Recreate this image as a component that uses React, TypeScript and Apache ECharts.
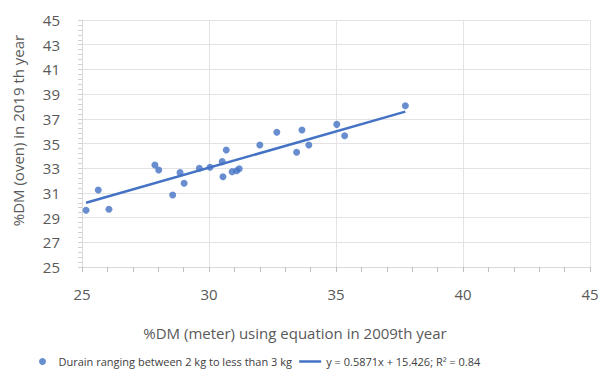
import React, { useEffect, useRef } from "react";
import * as echarts from "echarts";

const meterX = [25.16, 25.64, 26.06, 27.87, 28.02, 28.57, 28.86, 29.02, 29.62, 30.04, 30.52, 30.55, 30.68, 30.91, 31.09, 31.19, 32.0, 32.67, 33.45, 33.66, 33.93, 35.03, 35.34, 37.73];
const ovenY = [29.6, 31.23, 29.67, 33.26, 32.85, 30.83, 32.64, 31.78, 32.99, 33.07, 33.53, 32.31, 34.47, 32.72, 32.8, 32.96, 34.88, 35.91, 34.29, 36.09, 34.88, 36.55, 35.63, 38.06];
const slope = 0.5871;
const intercept = 15.426;
const seriesName = "Durain ranging between 2 kg to less than 3 kg";
const trendName = "y = 0.5871x + 15.426; R² = 0.84";
const xTitle = "%DM (meter) using equation in 2009th year";
const yTitle = "%DM (oven) in 2019 th year";

export default function App() {
  const ref = useRef<HTMLDivElement>(null);
  useEffect(() => {
    if (!ref.current) return;
    const chart = echarts.init(ref.current, null, { renderer: "svg" });
    const pts = meterX.map((x, i) => [x, ovenY[i]]);
    const xMin = Math.min(...meterX);
    const xMax = Math.max(...meterX);
    const trend = [
      [xMin, slope * xMin + intercept],
      [xMax, slope * xMax + intercept],
    ];
    const font = "'Open Sans', 'Noto Sans', sans-serif";
    chart.setOption({
      animation: false,
      backgroundColor: "#ffffff",
      textStyle: { fontFamily: font },
      grid: { left: 82, right: 16, top: 20, bottom: 107, containLabel: false },
      legend: {
        top: 351,
        left: 34,
        itemGap: 6,
        itemWidth: 22,
        itemHeight: 7,
        textStyle: { fontSize: 11, color: "#404040", fontFamily: font },
        data: [
          { name: seriesName, icon: "circle", itemStyle: { color: "#4472C4" } },
          {
            name: trendName,
            itemStyle: { color: "rgba(0,0,0,0)", borderColor: "rgba(0,0,0,0)", borderWidth: 0 },
            lineStyle: { color: "#4472C4", width: 2.5 },
          },
        ],
      },
      xAxis: {
        type: "value",
        min: 25,
        max: 45,
        interval: 5,
        name: xTitle,
        nameLocation: "middle",
        nameGap: 58,
        nameTextStyle: { fontSize: 15, color: "#595959", fontFamily: font, padding: [0, 82, 0, 0] },
        axisLine: { show: true, lineStyle: { color: "#d9d9d9" } },
        axisTick: { show: true, inside: false, length: 5, lineStyle: { color: "#bfbfbf" } },
        minorTick: { show: true, splitNumber: 5, length: 5, lineStyle: { color: "#bfbfbf" } },
        axisLabel: { fontSize: 15, color: "#595959", margin: 19 },
        splitLine: { show: true, lineStyle: { color: "#e3e3e3" } },
      },
      yAxis: {
        type: "value",
        min: 25,
        max: 45,
        interval: 2,
        name: yTitle,
        nameLocation: "middle",
        nameGap: 57,
        nameTextStyle: { fontSize: 15, color: "#595959", fontFamily: font, padding: [0, 0, 0, 26] },
        axisLine: { show: true, lineStyle: { color: "#d9d9d9" } },
        axisTick: { show: true, length: 4, lineStyle: { color: "#d0d0d0" } },
        minorTick: { show: true, splitNumber: 5, length: 4, lineStyle: { color: "#d0d0d0" } },
        axisLabel: { fontSize: 15, color: "#595959", margin: 22 },
        splitLine: { show: true, lineStyle: { color: "#e3e3e3" } },
      },
      series: [
        {
          name: seriesName,
          type: "scatter",
          data: pts,
          symbolSize: 7,
          itemStyle: { color: "#4472C4" },
          z: 3,
        },
        {
          name: trendName,
          type: "line",
          data: trend,
          symbol: "none",
          lineStyle: { color: "#4472C4", width: 2.5 },
          itemStyle: { color: "#4472C4" },
          z: 2,
        },
      ],
    });
    return () => chart.dispose();
  }, []);
  return (
    <div
      ref={ref}
      style={{ position: "absolute", left: 0, top: 0, width: 606, height: 374 }}
    />
  );
}
